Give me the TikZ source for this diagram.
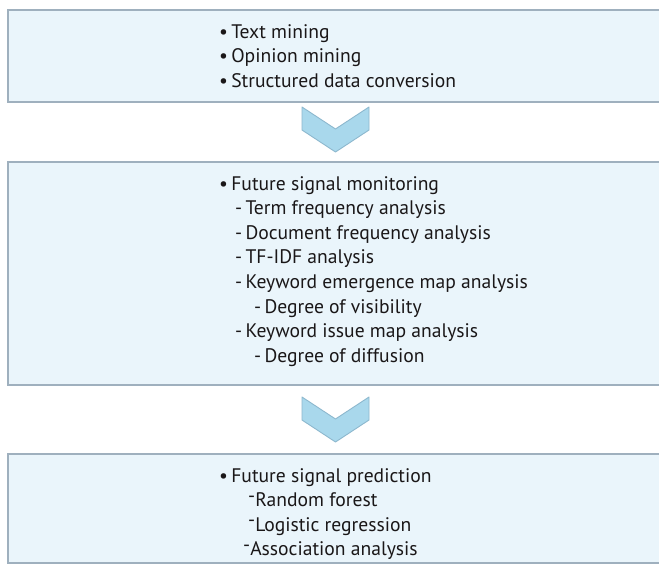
\documentclass[tikz,border=0pt]{standalone}
\usepackage{fontspec}
\setmainfont{PT Sans}
\definecolor{boxfill}{HTML}{EAF5FB}
\definecolor{boxline}{HTML}{9FB0BE}
\definecolor{chevfill}{HTML}{A9D8EC}
\definecolor{chevline}{HTML}{8DB8CE}
\definecolor{txt}{HTML}{1A1718}
\begin{document}
\begin{tikzpicture}[x=1pt,y=-1pt,
  stagebox/.style={draw=boxline,line width=1.3pt,fill=boxfill},
  chev/.style={draw=chevline,line width=0.9pt,fill=chevfill,line join=round},
  items/.style={anchor=north west,align=left,inner sep=0pt,text=txt,
    font=\fontsize{19.6}{24.6}\selectfont}]
\clip (0,0) rectangle (659,566);
\fill[white] (0,0) rectangle (659,566);
% boxes
\path[stagebox] (8,10) rectangle (680,102);
\path[stagebox] (8,162) rectangle (680,385);
\path[stagebox] (8,454) rectangle (680,563);
% chevrons
\path[chev] (302,107) -- (302,130) -- (335.5,152) -- (369,130) -- (369,107) -- (335.5,129) -- cycle;
\path[chev] (302,397) -- (302,420) -- (335.5,442) -- (369,420) -- (369,397) -- (335.5,419) -- cycle;
% texts
\node[items] (t1) at (219,24) {•\,Text mining\\•\,Opinion mining\\•\,Structured data conversion};
\node[items] (t2) at (219,176) {•\,Future signal monitoring\\
\hspace*{16pt}-\,Term frequency analysis\\
\hspace*{16pt}-\,Document frequency analysis\\
\hspace*{16pt}-\,TF-IDF analysis\\
\hspace*{16pt}-\,Keyword emergence map analysis\\
\hspace*{35pt}-\,Degree of visibility\\
\hspace*{16pt}-\,Keyword issue map analysis\\
\hspace*{35pt}-\,Degree of diffusion};
\node[items] (t3) at (219,468) {•\,Future signal prediction\\
\hspace*{29pt}\raisebox{0.45ex}{-}Random forest\\
\hspace*{29pt}\raisebox{0.45ex}{-}Logistic regression\\
\hspace*{24pt}\raisebox{0.45ex}{-}Association analysis};
\end{tikzpicture}
\end{document}
